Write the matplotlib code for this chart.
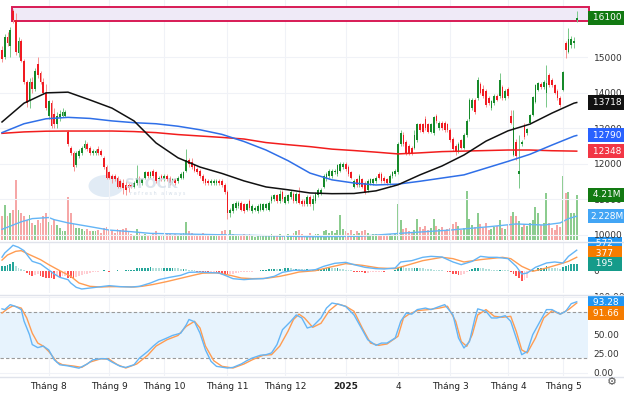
import matplotlib
matplotlib.use("Agg")
import matplotlib.pyplot as plt
import matplotlib.transforms as mtransforms
from matplotlib.patches import Rectangle, Circle
from matplotlib.lines import Line2D
import numpy as np

# ---- price candles (one per trading day) ----
opens = [
    15200, 15000, 15550, 15300, 16300, 16050, 15100, 15450, 14900, 14300,
    13750, 14300, 14100, 14800, 14550, 14300, 14000, 13350, 13700, 13400,
    13100, 13300, 13350, 13350, 12900, 12450, 12300, 11950, 12200, 12300,
    12450, 12550, 12450, 12300, 12300, 12400, 12350, 12150, 11900, 11750,
    11650, 11650, 11600, 11500, 11450, 11400, 11400, 11400, 11350, 11450,
    11600, 11450, 11600, 11750, 11650, 11800, 11750, 11550, 11650, 11550,
    11650, 11600, 11500, 11550, 11500, 11600, 11600, 11800, 12100, 12050,
    11950, 11850, 11800, 11650, 11550, 11500, 11450, 11450, 11450, 11500,
    11500, 11400, 11200, 10600, 10650, 10750, 10800, 10900, 10850, 10700,
    10950, 10650, 10700, 10650, 10700, 10700, 10750, 10700, 10950, 11000,
    11100, 10950, 11200, 10900, 10950, 11050, 11150, 10950, 11150, 10950,
    10950, 10850, 11050, 10850, 10950, 11100, 11150, 11350, 11550, 11650,
    11650, 11750, 11700, 11800, 11900, 12000, 11900, 11750, 11350, 11550,
    11400, 11550, 11450, 11250, 11450, 11450, 11500, 11700, 11700, 11600,
    11550, 11450, 11650, 11700, 11750, 12550, 12800, 12600, 12500, 12450,
    12450, 12650, 13100, 13100, 13250, 13100, 12900, 12850, 13350, 13000,
    13150, 13150, 13100, 12950, 12700, 12500, 12350, 12650, 12450, 12800,
    13250, 13550, 13800, 13850, 14250, 14100, 14050, 13850, 13550, 13700,
    13900, 13900, 14150, 13850, 14100, 13350, 12250, 12600, 11700, 12550,
    13090, 12850, 13130, 13370, 13730, 14070, 14250, 14150, 13990, 14490,
    14350, 14200, 14050, 13850, 14070, 15400, 15150, 15350, 15400, 16050,
]
closes = [
    14950, 15550, 15400, 15750, 16050, 15150, 15450, 14900, 14300, 13700,
    14300, 14100, 14600, 14500, 14300, 14000, 13550, 13750, 13050, 13100,
    13350, 13400, 13450, 13450, 12550, 12300, 11900, 12300, 12350, 12450,
    12550, 12400, 12300, 12350, 12350, 12300, 12250, 11900, 11600, 11600,
    11550, 11550, 11350, 11350, 11300, 11250, 11300, 11350, 11450, 11600,
    11450, 11550, 11750, 11650, 11750, 11650, 11500, 11600, 11550, 11650,
    11550, 11450, 11550, 11450, 11600, 11700, 11750, 12100, 12000, 11900,
    11800, 11750, 11650, 11500, 11450, 11450, 11500, 11500, 11500, 11450,
    11400, 11200, 10600, 10700, 10850, 10900, 10900, 10700, 10650, 10850,
    10750, 10800, 10750, 10800, 10850, 10850, 10850, 10900, 11050, 11100,
    10950, 11150, 11000, 11050, 11100, 11200, 10950, 11150, 10900, 10850,
    10850, 11050, 10850, 11000, 11150, 11250, 11250, 11650, 11700, 11800,
    11800, 11800, 11950, 12000, 12000, 11850, 11700, 11600, 11500, 11400,
    11650, 11350, 11200, 11500, 11550, 11550, 11600, 11600, 11500, 11500,
    11450, 11650, 11750, 11800, 12550, 12850, 12550, 12300, 12300, 12300,
    12800, 13100, 12950, 12900, 13000, 12900, 13100, 13300, 13200, 13150,
    13000, 12950, 12950, 12650, 12400, 12350, 12550, 12450, 12800, 13200,
    13800, 13800, 13450, 14350, 14000, 13900, 13650, 13700, 13750, 13900,
    13800, 14350, 13850, 14050, 13900, 13150, 13030, 12200, 11800, 12600,
    12750, 12960, 13370, 13870, 14210, 14270, 14150, 14300, 14270, 14210,
    14200, 14000, 13850, 13650, 14580, 15200, 15500, 15500, 15450, 16100,
]
highs = [
    15300, 15650, 15700, 15850, 16350, 16250, 15550, 15500, 14950, 14350,
    14400, 14450, 14700, 15000, 14600, 14400, 14250, 13800, 13800, 13550,
    13450, 13500, 13550, 13500, 12950, 12500, 12350, 12350, 12400, 12500,
    12650, 12600, 12500, 12400, 12400, 12500, 12400, 12200, 11950, 11800,
    11700, 11700, 11650, 11550, 11550, 11500, 11450, 11450, 11500, 11950,
    11650, 11600, 11800, 11800, 11800, 11850, 11800, 11650, 11700, 11700,
    11700, 11650, 11600, 11600, 11650, 11750, 11800, 12400, 12150, 12150,
    12000, 11900, 11850, 11700, 11600, 11550, 11550, 11550, 11550, 11550,
    11550, 11450, 11250, 10750, 10900, 10950, 10950, 10950, 10900, 10900,
    11000, 10850, 10800, 10850, 10900, 10900, 10900, 10950, 11100, 11150,
    11150, 11250, 11250, 11100, 11150, 11250, 11200, 11200, 11350, 11000,
    11000, 11100, 11100, 11100, 11200, 11300, 11300, 11700, 11750, 11850,
    11850, 11850, 12000, 12050, 12050, 12050, 11950, 11800, 11550, 11600,
    11700, 11600, 11500, 11550, 11600, 11600, 11650, 11750, 11750, 11650,
    11600, 11700, 11800, 11850, 12600, 12950, 12900, 12650, 12550, 12500,
    12950, 13150, 13150, 13150, 13350, 13150, 13150, 13350, 13400, 13200,
    13200, 13200, 13150, 13000, 12750, 12550, 12600, 12700, 12850, 13250,
    13850, 13850, 13850, 14450, 14300, 14200, 14100, 13900, 13800, 13950,
    13950, 14550, 14200, 14100, 14150, 13500, 13500, 12700, 12800, 12650,
    13150, 13000, 13400, 13900, 14250, 14300, 14300, 14350, 14770, 14550,
    14400, 14250, 14100, 13900, 14600, 15450, 15820, 15600, 15550, 16300,
]
lows = [
    14850, 14950, 15300, 15000, 15950, 15050, 15000, 14850, 14250, 13600,
    13550, 14000, 14050, 14400, 14250, 13950, 13500, 13250, 13000, 13000,
    13000, 13200, 13300, 13300, 12500, 12250, 11800, 11900, 12150, 12250,
    12400, 12350, 12250, 12250, 12250, 12250, 12200, 11850, 11550, 11550,
    11450, 11500, 11300, 11300, 11150, 11100, 11200, 11300, 11300, 11400,
    11400, 11400, 11550, 11600, 11600, 11600, 11450, 11500, 11500, 11500,
    11500, 11400, 11450, 11400, 11450, 11550, 11550, 11750, 11900, 11850,
    11750, 11700, 11600, 11450, 11400, 11400, 11400, 11400, 11400, 11400,
    11350, 11150, 10450, 10500, 10600, 10700, 10750, 10650, 10600, 10650,
    10700, 10600, 10650, 10600, 10650, 10650, 10700, 10650, 10900, 10950,
    10900, 10900, 10950, 10850, 10900, 11000, 10900, 10900, 10850, 10800,
    10800, 10800, 10800, 10700, 10900, 11050, 11100, 11300, 11500, 11600,
    11600, 11700, 11650, 11750, 11850, 11800, 11650, 11550, 11300, 11350,
    11350, 11300, 11150, 11200, 11400, 11400, 11450, 11550, 11450, 11450,
    11400, 11400, 11600, 11650, 11700, 12500, 12500, 12250, 12250, 12250,
    12400, 12600, 12900, 12850, 12950, 12850, 12850, 12800, 13150, 12950,
    12950, 12900, 12900, 12600, 12350, 12250, 12300, 12400, 12400, 12750,
    13200, 13500, 13400, 13800, 13950, 13850, 13600, 13650, 13500, 13650,
    13750, 13850, 13800, 13800, 13850, 13100, 12200, 12100, 11300, 12500,
    12700, 12800, 13100, 13350, 13700, 14050, 14100, 14100, 13590, 14150,
    14150, 13950, 13800, 13600, 14050, 14970, 15100, 15250, 15250, 16000,
]
volumes = [  # million shares
    2.2, 3.3, 2.2, 2.5, 2.8, 5.6, 2.8, 2.5, 2.2, 1.9,
    2.3, 1.6, 1.4, 1.9, 1.6, 2.2, 2.5, 1.7, 1.4, 1.9,
    1.4, 1.1, 0.8, 0.8, 4.0, 2.5, 1.5, 1.1, 1.1, 1.0,
    0.8, 1.0, 0.8, 0.8, 0.8, 0.9, 0.7, 1.1, 1.2, 0.9,
    0.8, 0.7, 1.0, 0.9, 1.0, 1.1, 0.8, 0.6, 0.5, 1.0,
    0.7, 0.5, 0.6, 0.5, 0.5, 0.6, 0.8, 0.5, 0.4, 0.5,
    0.6, 0.6, 0.5, 0.6, 0.5, 0.6, 0.7, 1.7, 0.8, 0.7,
    0.6, 0.5, 0.6, 0.7, 0.6, 0.5, 0.4, 0.4, 0.5, 0.6,
    0.8, 0.9, 1.1, 0.9, 0.6, 0.5, 0.4, 0.5, 0.6, 0.4,
    0.6, 0.4, 0.3, 0.4, 0.4, 0.5, 0.4, 0.5, 0.6, 0.5,
    0.5, 0.6, 0.5, 0.5, 0.6, 0.4, 0.7, 0.8, 0.9, 0.6,
    0.5, 0.5, 0.7, 0.5, 0.6, 0.6, 0.5, 0.8, 0.9, 0.7,
    0.8, 0.7, 0.9, 2.3, 1.0, 0.8, 0.7, 0.9, 0.6, 0.8,
    0.7, 0.8, 0.9, 0.7, 0.5, 0.6, 0.6, 0.5, 0.6, 0.5,
    0.5, 0.6, 0.5, 0.7, 3.4, 1.9, 1.0, 1.1, 0.8, 0.7,
    0.9, 2.0, 1.2, 1.0, 1.3, 0.9, 1.1, 2.0, 1.3, 1.0,
    1.2, 0.9, 1.0, 1.1, 1.5, 1.7, 1.3, 0.9, 1.1, 4.6,
    2.0, 1.4, 1.2, 2.5, 1.5, 1.1, 1.6, 0.9, 1.0, 1.2,
    1.3, 1.9, 1.1, 1.0, 1.4, 2.2, 2.6, 2.2, 1.8, 1.2,
    1.5, 1.3, 1.6, 1.9, 3.1, 2.5, 1.4, 1.6, 4.4, 1.6,
    1.1, 0.9, 1.4, 1.2, 6.0, 4.4, 4.5, 2.5, 2.5, 4.21,
]

ma_idx = [0, 8, 16, 24, 32, 40, 48, 56, 64, 72, 80, 88, 96, 104, 112, 120,
          128, 136, 144, 152, 160, 168, 176, 184, 192, 200, 208, 209]
ma_black = [13170, 13700, 13990, 14010, 13790, 13560, 13200, 12580, 12160, 11900,
            11720, 11510, 11340, 11260, 11170, 11150, 11155, 11230, 11400, 11680,
            11930, 12240, 12630, 12920, 13110, 13420, 13700, 13718]
ma_blue = [12870, 13120, 13260, 13300, 13270, 13200, 13150, 13120, 13050, 12950,
           12820, 12620, 12380, 12080, 11730, 11540, 11450, 11395, 11420, 11500,
           11590, 11680, 11870, 12060, 12260, 12520, 12770, 12790]
ma_red = [12850, 12890, 12910, 12915, 12915, 12915, 12900, 12870, 12815, 12775,
          12735, 12690, 12590, 12530, 12475, 12405, 12365, 12320, 12270, 12300,
          12335, 12350, 12365, 12380, 12380, 12360, 12350, 12348]

vol_ma_idx = [0, 7, 11, 17, 19, 24, 32, 39, 47, 54, 72, 90, 112, 130, 145, 163,
              177, 187, 197, 203, 206, 209]
vol_ma = [1.0, 1.7, 2.0, 2.1, 1.9, 1.6, 1.25, 0.93, 0.78, 0.62, 0.53, 0.44, 0.31,
          0.35, 0.63, 0.93, 1.24, 1.5, 1.4, 1.6, 2.0, 2.228]

# MACD
macd_idx = [0, 1, 3, 4, 6, 8, 10, 11, 14, 16, 19, 21, 24, 25, 27, 29, 32, 36, 39, 43,
            47, 50, 54, 57, 61, 65, 68, 72, 76, 79, 82, 84, 88, 91, 95, 99, 102, 106, 108, 110,
            114, 117, 121, 125, 128, 132, 136, 139, 143, 145, 149, 153, 156, 160, 164, 167, 171, 174, 177, 180,
            184, 187, 189, 191, 194, 198, 201, 204, 206, 209]
macd_line = [380, 495, 633, 707, 652, 559, 358, 266, 193, 83, -83, -174, -238, -330, -449, -495, -468, -431, -403, -431,
             -440, -422, -330, -238, -174, -119, -37, -28, -46, -55, -147, -211, -238, -220, -211, -147, -37, 18, 20, 10,
             37, 128, 211, 238, 174, 101, 64, 55, 83, 248, 284, 376, 403, 385, 248, 174, 266, 403, 376, 376,
             339, 128, -83, -55, 101, 220, 248, 220, 403, 572]
sig_idx = [0, 2, 5, 7, 10, 14, 17, 21, 25, 28, 32, 36, 39, 43, 48, 51, 55, 60, 65, 70,
           73, 78, 83, 87, 91, 96, 101, 105, 108, 114, 119, 125, 131, 137, 143, 148, 153, 160, 164, 168,
           174, 182, 185, 189, 191, 193, 198, 203, 206, 209]
sig_line = [300, 440, 541, 559, 449, 312, 174, 9, -147, -330, -422, -440, -431, -431, -440, -420, -370, -290, -200, -110,
            -60, -50, -119, -193, -211, -202, -147, -83, -28, 9, 101, 202, 156, 83, 64, 174, 284, 376, 339, 248,
            312, 376, 339, 128, 60, -9, 83, 193, 266, 377]
macd_hist = [
    130, 150, 165, 190, 250, 140, 80, 55, 15, -55,
    -110, -140, -110, -95, -140, -165, -180, -190, -205, -220,
    -140, -165, -150, -140, -180, -190, -195, -165, -140, -110,
    -80, -70, -55, -40, -30, -15, 10, 15, -10, -15,
    -10, 10, 15, -10, 10, 15, 20, 35, 40, 70,
    75, 80, 90, 95, 100, 95, 80, 75, 70, 75,
    80, 85, 95, 80, 70, 55, 65, 55, 40, 30,
    15, -15, -30, -40, -50, -55, -50, -40, -50, -55,
    -70, -75, -80, -75, -70, -55, -50, -40, -35, -30,
    -20, -15, -10, 10, 15, 30, 35, 45, 55, 60,
    55, 65, 55, 70, 75, 70, 60, 65, 55, 50,
    45, 45, 40, 40, 50, 55, 60, 70, 80, 80,
    75, 70, 70, 65, 55, 40, 30, 15, -15, -30,
    -35, -40, -50, -45, -40, -35, -30, -20, -15, -15,
    -10, -5, 10, 20, 80, 120, 110, 95, 80, 70,
    70, 80, 75, 70, 65, 55, 45, 40, 35, 30,
    15, 5, -15, -40, -70, -95, -120, -110, -80, -40,
    30, 55, 70, 95, 80, 70, 55, 45, 40, 35,
    30, 35, 30, 20, 15, -40, -80, -140, -190, -275,
    -250, -190, -40, 15, 30, 70, 80, 95, 130, 110,
    95, 80, 70, 60, 110, 140, 165, 180, 190, 195,
]

# Stochastic
k_idx = [0, 1, 3, 5, 7, 8, 10, 11, 13, 15, 17, 19, 21, 24, 26, 28, 31, 33, 36, 38,
         40, 43, 45, 48, 50, 53, 55, 57, 60, 62, 65, 67, 68, 70, 72, 74, 76, 78, 82, 84,
         87, 89, 91, 94, 96, 98, 100, 102, 105, 107, 109, 111, 113, 116, 118, 120, 123, 125, 128, 131,
         133, 136, 138, 140, 143, 145, 147, 149, 151, 154, 156, 159, 161, 164, 166, 168, 170, 172, 173, 176,
         178, 180, 183, 185, 187, 189, 191, 193, 196, 198, 200, 203, 205, 207, 209]
k_line = [84, 83, 89.5, 87, 83, 68, 50, 37, 33, 35, 30, 17, 10.5, 9, 7.5, 6, 11.5, 17, 18.4, 18.4,
          14, 8.4, 7, 10.5, 19.3, 28, 35, 41, 45.7, 49, 52, 63, 70, 67, 52, 30, 15, 8.4, 6.2, 7,
          11.5, 15.8, 19.3, 23, 23.7, 26, 37, 56.6, 67.6, 76, 72, 58.8, 61, 72, 85, 91.7, 89.5, 87, 76, 56.6,
          43.4, 36, 39, 39, 45.7, 67.6, 78.5, 77, 83, 85, 83, 87, 89.5, 76, 45.7, 32.5, 41, 72, 84, 80.8,
          72, 72, 75, 67.6, 45.7, 23.7, 28, 50, 69.7, 83, 83, 77, 80.8, 90.8, 93.28]
d_idx = [0, 2, 4, 7, 9, 11, 13, 15, 17, 20, 22, 26, 29, 32, 36, 39, 42, 45, 49, 53,
         56, 60, 64, 67, 70, 72, 74, 77, 80, 84, 88, 91, 95, 98, 101, 104, 106, 108, 110, 113,
         116, 119, 122, 125, 128, 131, 134, 137, 140, 144, 146, 148, 151, 155, 159, 162, 165, 167, 169, 171,
         173, 176, 179, 182, 185, 187, 189, 191, 194, 197, 200, 203, 206, 209]
d_line = [78.5, 84, 88, 85, 72, 52, 39, 35, 28, 14, 10.5, 8.8, 7, 14, 18.4, 17.6, 10.5, 6.2, 11.5, 23,
          35, 43.4, 49, 61, 67.6, 58.8, 35, 15.8, 8.4, 6.2, 11.5, 17, 23, 23.7, 35, 54.5, 70, 77, 72, 59.7,
          65, 81.6, 90.4, 87.4, 80.8, 58.8, 39, 36, 37.8, 47.9, 72, 77, 81.6, 83, 85, 87.4, 67.6, 41, 34.7, 50,
          76, 83, 74.2, 72.9, 74.2, 54.5, 30, 26, 45.7, 72, 81.6, 77, 83, 91.66]

month_pos = [17, 39, 59, 82, 103, 125, 144, 163, 184, 204]
month_labels = ['Tháng 8', 'Tháng 9', 'Tháng 10', 'Tháng 11', 'Tháng 12',
                '2025', '4', 'Tháng 3', 'Tháng 4', 'Tháng 5']

plt.rcParams['font.family'] = ['DejaVu Sans']

W, H = 624, 394
fig = plt.figure(figsize=(W / 100, H / 100), dpi=100)


def frac(top, bottom):
    return [0, 1 - bottom / H, 588 / W, (bottom - top) / H]


ax = fig.add_axes(frac(0, 241))
axv = ax.twinx()
axm = fig.add_axes(frac(242, 293), sharex=ax)
axs = fig.add_axes(frac(295, 376), sharex=ax)
ax.set_zorder(axv.get_zorder() + 1)
ax.patch.set_visible(False)

o = np.array(opens, float)
c = np.array(closes, float)
hi = np.array(highs, float)
lo = np.array(lows, float)
v = np.array(volumes, float)
x = np.arange(len(c))
up = c >= o

green, red = '#168a2a', '#f01b22'

# volume
axv.bar(x[up], v[up], width=0.72, color='#66bb6a', alpha=0.75, lw=0)
axv.bar(x[~up], v[~up], width=0.72, color='#f48a8a', alpha=0.75, lw=0)
axv.plot(vol_ma_idx, vol_ma, color='#64b5f6', lw=1.0)
axv.set_ylim(-0.09, 22.4)
axv.set_yticks([])
for s in axv.spines.values():
    s.set_visible(False)

# candles
ax.vlines(x[up], lo[up], hi[up], color='#79c889', lw=0.7, zorder=3)
ax.vlines(x[~up], lo[~up], hi[~up], color='#f79292', lw=0.7, zorder=3)
body_lo = np.minimum(o, c)
body_h = np.maximum(np.abs(c - o), 25)
ax.bar(x[up], body_h[up], bottom=body_lo[up], width=0.7, color=green, lw=0, zorder=4)
ax.bar(x[~up], body_h[~up], bottom=body_lo[~up], width=0.7, color=red, lw=0, zorder=4)

ax.plot(ma_idx, ma_red, color='#f21d1d', lw=1.1, zorder=5)
ax.plot(ma_idx, ma_blue, color='#2f6fe8', lw=1.1, zorder=5)
ax.plot(ma_idx, ma_black, color='#111111', lw=1.1, zorder=5)

# drawn rectangle zone
ax.add_patch(Rectangle((3.6, 16006), 210, 394, facecolor='#efeaf7', edgecolor='#d81b55',
                       lw=1.4, zorder=2, clip_on=False))

ax.set_ylim(9817, 16606)
ax.set_xlim(-0.73, 213.1)
ax.set_yticks([10000, 11000, 12000, 13000, 14000, 15000])

# MACD
hist = np.array(macd_hist, float)
prev = np.concatenate([[0], hist[:-1]])
hcol = np.where(hist >= 0, np.where(hist >= prev, '#26a69a', '#b2dfdb'),
                np.where(hist <= prev, '#ff5252', '#ffcdd2'))
axm.bar(x, hist, width=0.6, color=hcol, lw=0)
axm.plot(sig_idx, sig_line, color='#ff9c52', lw=1.0)
axm.plot(macd_idx, macd_line, color='#64b5f6', lw=1.0)
axm.set_ylim(-605, 797)
axm.set_yticks([0])

# Stochastic
axs.axhspan(20, 80, color='#e7f3fd', lw=0)
axs.axhline(80, color='#9a9a9a', lw=0.8, ls=(0, (3, 2)))
axs.axhline(20, color='#9a9a9a', lw=0.8, ls=(0, (3, 2)))
axs.plot(d_idx, d_line, color='#ff9c52', lw=1.0)
axs.plot(k_idx, k_line, color='#64b5f6', lw=1.0)
axs.set_ylim(-4.3, 102.2)
axs.set_yticks([0, 25, 50, 75, 100])
axs.set_yticklabels(['0.00', '25.00', '50.00', '75.00', '100.00'])

for a in (ax, axm, axs):
    for s in a.spines.values():
        s.set_visible(False)
    a.yaxis.tick_right()
    a.tick_params(axis='y', length=0, pad=4, labelsize=6.5, labelcolor='#333333')
    a.tick_params(axis='x', length=0)
    a.set_xticks(month_pos)
    a.grid(True, color='#f0f2f7', lw=0.8)
    a.set_axisbelow(True)
axm.grid(False)
axm.grid(True, axis='x', color='#f0f2f7', lw=0.8)
ax.tick_params(axis='x', labelbottom=False)
axm.tick_params(axis='x', labelbottom=False)
axs.set_xticklabels(month_labels)
axs.tick_params(axis='x', labelsize=6.5, labelcolor='#222222', pad=4)
axs.get_xticklabels()[5].set_fontweight('bold')


def tag(a, y, txt, color, trans=None):
    if trans is None:
        trans = mtransforms.blended_transform_factory(a.transAxes, a.transData)
    a.text(1.004, y, txt, transform=trans, ha='left', va='center', fontsize=6.5,
           color='white', clip_on=False, zorder=10,
           bbox=dict(boxstyle='square,pad=0.28', fc=color, ec='none'))


tag(ax, 16100, ' 16100 ', '#127a12')
tag(ax, 13718, ' 13718 ', '#111111')
tag(ax, 12790, ' 12790 ', '#2962ff')
tag(ax, 12348, ' 12348 ', '#f23645')
vtrans = mtransforms.blended_transform_factory(ax.transAxes, axv.transData)
tag(ax, 4.21, ' 4.21M ', '#127a12', vtrans)
tag(ax, 2.228, '2.228M', '#42a5f5', vtrans)
tag(axm, 0.97, '  572  ', '#2196f3', axm.transAxes)
tag(axm, 0.775, '  377  ', '#f57c00', axm.transAxes)
tag(axm, 0.569, '  195  ', '#159b8a', axm.transAxes)
tag(axs, 0.905, ' 93.28 ', '#2196f3', axs.transAxes)
tag(axs, 0.772, ' 91.66 ', '#f57c00', axs.transAxes)

# panel separators
for yp in (241.5, 294.5, 376.5):
    fig.add_artist(Line2D([0, 1], [1 - yp / H, 1 - yp / H], transform=fig.transFigure,
                          color='#e0e3eb', lw=1))

# faint watermark
fig.add_artist(Circle((106 / W, 1 - 186 / H), 0.028, transform=fig.transFigure,
                      color='#c9dbee', alpha=0.55, lw=0))
fig.text(125 / W, 1 - 184 / H, 'STOCK', fontsize=10, fontweight='bold',
         color='#d3dde8', alpha=0.8, va='center')
fig.text(130 / W, 1 - 194 / H, 'r e f r e s h   a l w a y s', fontsize=3.5,
         color='#d3dde8', va='center')
fig.text(612 / W, 1 - 382 / H, '⚙', fontsize=8, color='#555555', ha='center', va='center')

fig.savefig('out.png', dpi=100)
